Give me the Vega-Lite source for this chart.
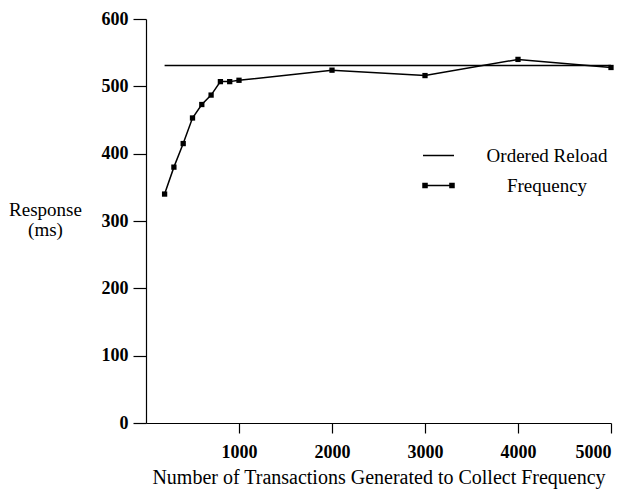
{
  "$schema": "https://vega.github.io/schema/vega-lite/v6.json",
  "width": 465,
  "height": 404,
  "autosize": "none",
  "padding": {"left": 146, "top": 19, "right": 21, "bottom": 69},
  "background": "white",
  "config": {
    "view": {"stroke": null},
    "font": "Liberation Serif",
    "axis": {
      "grid": false,
      "domainColor": "black",
      "domainWidth": 1.2,
      "tickColor": "black",
      "tickWidth": 1.2,
      "labelFont": "Liberation Serif",
      "labelFontWeight": "bold",
      "labelFontSize": 18,
      "labelColor": "black",
      "titleFont": "Liberation Serif",
      "titleFontWeight": "normal",
      "titleFontSize": 20,
      "titleColor": "black"
    }
  },
  "data": {
    "values": [
      {"series": "Ordered Reload", "tx": 200, "resp": 531},
      {"series": "Ordered Reload", "tx": 5000, "resp": 531},
      {"series": "Frequency", "tx": 200, "resp": 340},
      {"series": "Frequency", "tx": 300, "resp": 380},
      {"series": "Frequency", "tx": 400, "resp": 415},
      {"series": "Frequency", "tx": 500, "resp": 453},
      {"series": "Frequency", "tx": 600, "resp": 473},
      {"series": "Frequency", "tx": 700, "resp": 487},
      {"series": "Frequency", "tx": 800, "resp": 507},
      {"series": "Frequency", "tx": 900, "resp": 507},
      {"series": "Frequency", "tx": 1000, "resp": 509},
      {"series": "Frequency", "tx": 2000, "resp": 524},
      {"series": "Frequency", "tx": 3000, "resp": 516},
      {"series": "Frequency", "tx": 4000, "resp": 540},
      {"series": "Frequency", "tx": 5000, "resp": 528}
    ]
  },
  "encoding": {
    "x": {
      "field": "tx",
      "type": "quantitative",
      "scale": {"domain": [0, 5000], "nice": false},
      "axis": {
        "title": "Number of Transactions Generated to Collect Frequency",
        "values": [1000, 2000, 3000, 4000, 5000],
        "format": "d",
        "tickSize": 10,
        "labelPadding": 10,
        "titlePadding": 6
      }
    },
    "y": {
      "field": "resp",
      "type": "quantitative",
      "scale": {"domain": [0, 600], "nice": false},
      "axis": {
        "title": ["Response", "(ms)"],
        "values": [0, 100, 200, 300, 400, 500, 600],
        "tickSize": 13,
        "labelPadding": 5,
        "titleAngle": 0,
        "titleAlign": "center",
        "titleBaseline": "alphabetic",
        "titleFontSize": 19,
        "titleLineHeight": 20,
        "titleX": -101,
        "titleY": 196
      }
    }
  },
  "layer": [
    {
      "mark": {"type": "line", "strokeWidth": 1.5},
      "encoding": {
        "color": {
          "field": "series",
          "type": "nominal",
          "scale": {"domain": ["Ordered Reload", "Frequency"], "range": ["black", "black"]},
          "legend": {
            "title": null,
            "orient": "none",
            "legendX": 276,
            "legendY": 120,
            "padding": 0,
            "symbolSize": 961,
            "symbolStrokeWidth": 1.5,
            "labelFont": "Liberation Serif",
            "labelFontSize": 19,
            "labelColor": "black",
            "labelAlign": "center",
            "labelOffset": 92,
            "rowPadding": 3,
            "encode": {
              "symbols": {
                "update": {
                  "shape": {"signal": "datum.value === 'Frequency' ? 'M-1,0H1M-1,-0.13H-0.74V0.13H-1ZM0.74,-0.13H1V0.13H0.74Z' : 'M-1,0H1'"},
                  "fill": {"value": "black"},
                  "stroke": {"value": "black"}
                }
              }
            }
          }
        }
      }
    },
    {
      "transform": [{"filter": "datum.series === 'Frequency'"}],
      "mark": {"type": "point", "shape": "square", "filled": true, "size": 28, "color": "black", "opacity": 1}
    }
  ]
}
